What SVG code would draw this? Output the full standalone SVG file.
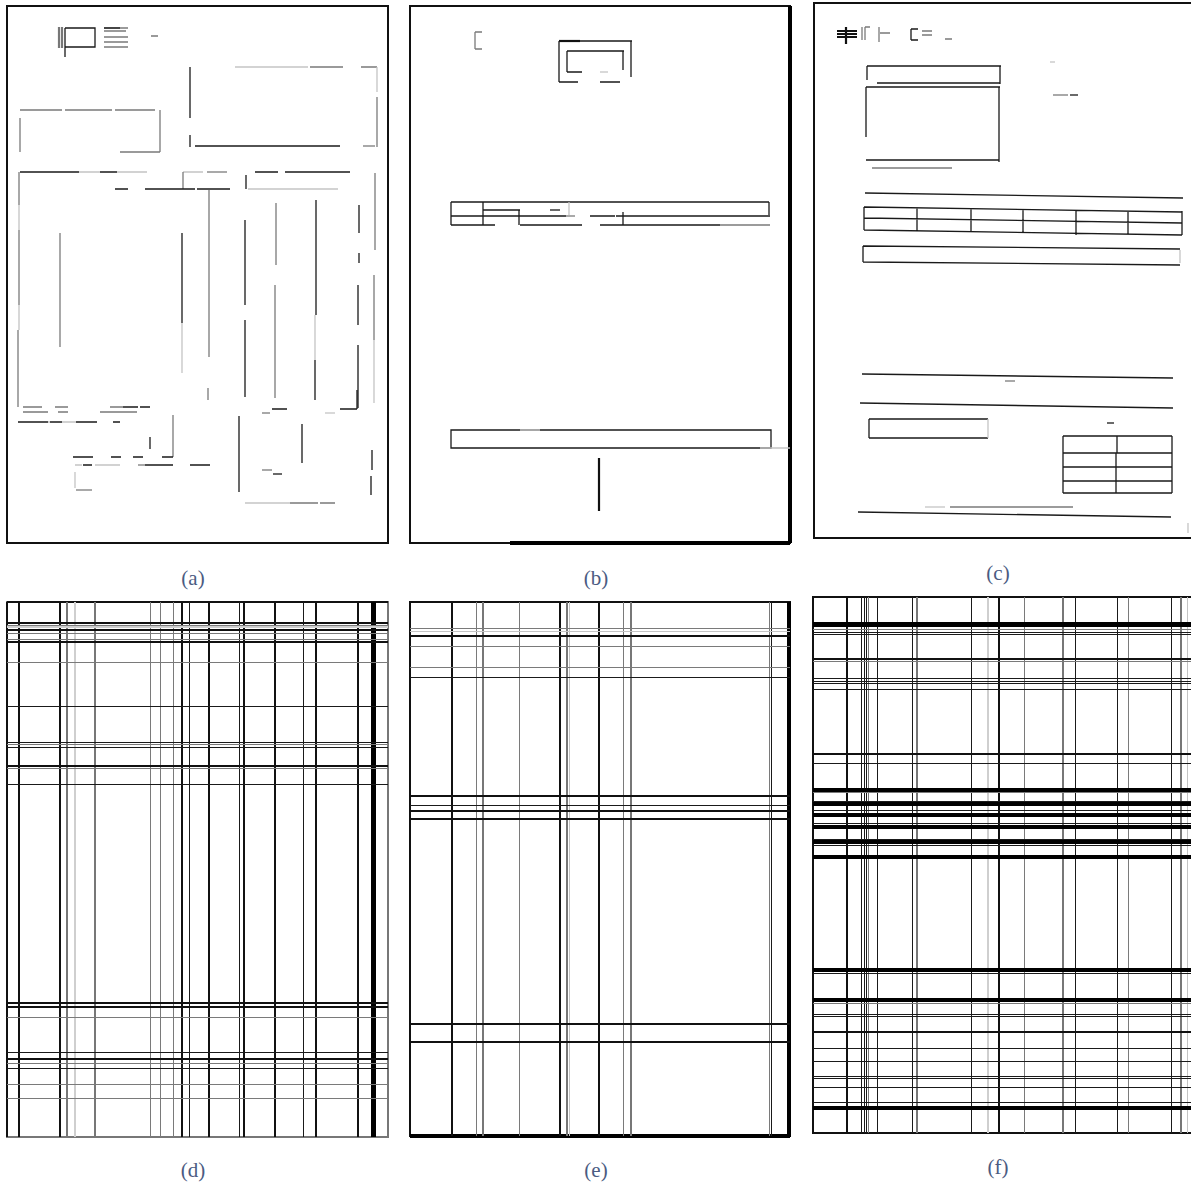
<svg xmlns="http://www.w3.org/2000/svg" width="1191" height="1186" viewBox="0 0 1191 1186">
<style>
.k{stroke:#1a1a1a;stroke-width:1.3;fill:none}
.k2{stroke:#111;stroke-width:2.2;fill:none}
.k4{stroke:#000;stroke-width:4;fill:none}
.g{stroke:#7a7a7a;stroke-width:1.3;fill:none}
.g2{stroke:#777;stroke-width:2.2;fill:none}
.l{stroke:#c4c4c4;stroke-width:1.3;fill:none}
.l2{stroke:#cfcfcf;stroke-width:2.2;fill:none}
.fr{stroke:#111;stroke-width:2;fill:none}
.grid .k,.grid .g,.grid .l{stroke-width:1}
.grid .k2,.grid .g2,.grid .l2{stroke-width:2}
.lab{font-family:"Liberation Serif","DejaVu Serif",serif;font-size:21px;fill:#4b5b82;text-anchor:middle}
</style>
<rect width="1191" height="1186" fill="#fff"/>

<g id="panel-a">
<rect class="fr" x="7" y="6" width="381" height="537"/>
<path class="g2" d="M59 27V48M62 27V48"/>
<path class="k" d="M65 28V57M65 28H95V47H65"/>
<path class="g" d="M104 28H128M104 31H126M104 37H128M104 42H128M104 47H128M151 36H158"/>
<path class="k" d="M104 28H120"/>
<path class="k" d="M190 67V118M190 135V147"/>
<path class="l" d="M235 67H308"/><path class="g" d="M310 67H343M361 67H377"/>
<path class="l" d="M377 67V92"/><path class="g" d="M377 97V147"/>
<path class="k" d="M195 146H340"/><path class="g" d="M363 146H375"/>
<path class="g" d="M20 110H62M65 110H112M115 110H155M20 118V152M160 110V152M120 152H160"/>
<path class="k" d="M20 172H79M100 172H117"/><path class="l" d="M79 172H100M117 172H147M183 172H203"/>
<path class="g" d="M207 172H227"/><path class="k" d="M255 172H278M285 172H350"/>
<path class="g" d="M183 172V189"/><path class="k" d="M246 175V189"/>
<path class="k" d="M115 189H128M145 189H165M165 189H195M197 189H230"/><path class="l" d="M248 189H338"/>
<path class="g" d="M19 172V205M19 230V305M18 330V407"/><path class="l" d="M19 205V230M19 305V330"/>
<path class="g" d="M60 233V347"/>
<path class="k" d="M182 233V323"/><path class="l" d="M182 323V373"/>
<path class="g" d="M209 190V357M208 388V400"/>
<path class="k" d="M245 220V305M245 320V397"/>
<path class="g" d="M276 203V265M275 285V398"/>
<path class="k" d="M316 200V315M315 360V400"/><path class="l" d="M315 315V360"/>
<path class="k" d="M359 205V233M359 253V263M358 285V325M358 345V408"/>
<path class="g" d="M375 173V250M374 275V340"/><path class="l" d="M374 340V403"/>
<path class="g" d="M23 407H42M55 407H68M110 407H123M100 412H137M23 412H48M58 412H68"/>
<path class="k" d="M123 407H138M140 407H150"/>
<path class="k" d="M18 422H48M50 422H62M76 422H97M113 422H120"/><path class="l" d="M48 422H50M62 422H76"/>
<path class="g" d="M262 413H270"/><path class="k" d="M272 409H287M340 409H357M357 409V390"/><path class="l" d="M325 413H335"/>
<path class="g" d="M173 415V457"/><path class="k" d="M150 437V449"/>
<path class="k" d="M73 457H93M111 457H121M133 457H143M162 457H173"/>
<path class="l" d="M75 465H82M95 465H120"/><path class="k" d="M83 465H92M145 465H173M190 465H210"/><path class="g" d="M138 465H145"/>
<path class="l" d="M75 472V488"/><path class="g" d="M76 490H92"/>
<path class="k" d="M239 416V492M302 424V463M372 450V470M371 476V495"/>
<path class="l" d="M245 503H290"/><path class="g" d="M290 503H318M320 503H335"/>
<path class="g" d="M262 470H272"/><path class="k" d="M273 474H282"/>
</g>

<g id="panel-b">
<path class="fr" d="M410 6H790V543H410Z"/>
<path class="k4" d="M790 6V543M510 543H790"/>
<path class="g" d="M475 32V49M475 32H482M475 49H482"/>
<path class="k2" d="M559 41H580"/><path class="k" d="M580 41H632M559 41V82M631 41V77M559 82H578M600 82H620"/>
<path class="k" d="M567 51H624M567 51V72M623 51V70M567 72H582"/><path class="l" d="M600 72H608"/>
<path class="k" d="M451 202H769M451 202V225M769 202V215M483 202V225M483 210H520M519 210V225M623 212V225"/>
<path class="k" d="M451 216H566M590 216H615M616 216H770"/><path class="g" d="M566 216H575"/>
<path class="k" d="M451 225H495M520 225H582M600 225H720"/><path class="g" d="M720 225H770"/>
<path class="l" d="M569 202V215"/><path class="k" d="M550 210H560"/>
<path class="k" d="M451 430H771V448H451Z"/><path class="l" d="M520 430H540M760 448H790"/>
<path class="k2" d="M599 458V511"/>
</g>

<g id="panel-c">
<path class="fr" d="M1195 3H814V538H1195"/>
<path class="k2" d="M837 31H857M837 34H857M837 37H857M846 27V44"/>
<path class="g" d="M862 27V40M865 27V40M865 27H870M879 27V42M880 33H890"/>
<path class="k" d="M911 29V40M911 29H918M911 40H918"/><path class="g" d="M922 31H932M922 35H932M945 39H952"/>
<path class="k" d="M867 66H1001M867 66V80M1000 66V84M877 83H1000"/>
<path class="k" d="M866 87H1000M866 87V137M999 87V162M866 160H999"/>
<path class="g" d="M872 168H952"/>
<path class="l" d="M1050 62H1055"/><path class="g" d="M1053 95H1068"/><path class="k" d="M1070 95H1078"/>
<path class="k" d="M865 193L1183 198"/>
<path class="k" d="M864 207L1182 212M864 218L1182 223M864 230L1182 235M864 207V230M917 208V231M971 209V232M1023 210V233M1076 210V235M1128 211V235M1182 211V235"/>
<path class="k" d="M863 246L1180 249M863 262L1180 265M863 246V262"/><path class="l" d="M1180 250V263"/>
<path class="k" d="M862 374L1173 378"/><path class="g" d="M1005 381H1015"/>
<path class="k" d="M860 403L1173 408"/>
<path class="k" d="M869 419H988M869 419V438M869 438H988"/><path class="l" d="M988 419V438"/>
<path class="k" d="M1107 423H1114"/>
<path class="k" d="M1063 436H1172M1063 453H1172M1063 467H1172M1063 481H1172M1063 493H1172M1063 436V493M1172 436V493M1117 436V453M1116 453V493"/>
<path class="l" d="M925 507H945"/><path class="g" d="M950 507H1073"/>
<path class="k" d="M858 512L1171 517"/>
<path class="l" d="M1188 523V533"/>
</g>

<g id="panel-d" class="grid" shape-rendering="crispEdges">
<path class="g2" d="M7 602H388V1137H7Z"/>
<path class="k2" d="M7 602H388M7 602V1137"/>
<path class="k2" d="M19 602V1137M60 602V1137M182 602V1137M209 602V1137M244 602V1137M275 602V1137M316 602V1137M358 602V1137"/>
<path class="k" d="M189.5 602V1137M239.5 602V1137M303.5 602V1137"/>
<path class="g2" d="M67 602V1137M95 602V1137"/>
<path class="l2" d="M75 602V1137"/>
<path class="g" d="M150.5 602V1137M160.5 602V1137M173.5 602V1137"/>
<rect x="371" y="602" width="5" height="535" fill="#000"/>
<path class="k2" d="M7 623H388M7 630H388M7 642H388M7 766H388M7 1003H388M7 1007H388M7 1059H388"/>
<path class="g" d="M7 625.5H388M7 633.5H388M7 639.5H388M7 662.5H388M7 744.5H388M7 768.5H388M7 1017.5H388M7 1063.5H388M7 1084.5H388M7 1098.5H388"/>
<path class="l2" d="M7 627H388"/>
<path class="k" d="M7 706.5H388M7 742.5H388M7 747.5H388M7 784.5H388M7 1052.5H388M7 1068.5H388"/>
</g>

<g id="panel-e" class="grid" shape-rendering="crispEdges">
<path class="k2" d="M410 602H790V1136H410Z"/>
<path class="k4" d="M789 602V1137M410 1136H790"/>
<path class="k2" d="M452 602V1136M560 602V1136M599 602V1136"/>
<path class="g" d="M476.5 602V1136M519.5 602V1136M623.5 602V1136M769.5 602V1136"/>
<path class="g2" d="M483 602V1136M567 602V1136M631 602V1136"/>
<path class="l" d="M569.5 602V1136"/>
<path class="k" d="M771.5 602V1136"/>
<path class="g" d="M410 628.5H790M410 646.5H790M410 667.5H790"/>
<path class="l" d="M410 631.5H790"/>
<path class="k2" d="M410 636H790M410 796H790M410 811H790M410 819H790M410 1024H790M410 1042H790"/>
<path class="k" d="M410 677.5H790M410 805.5H790"/>
</g>

<g id="panel-f" class="grid" shape-rendering="crispEdges">
<path class="k2" d="M1195 597H813V1133H1195"/>
<path class="k2" d="M813 597V1133"/>
<path class="k2" d="M847 597V1133M999 597V1133"/>
<path class="k" d="M861.5 597V1133M864.5 597V1133M866.5 597V1133M877.5 597V1133M912.5 597V1133M971.5 597V1133M1075.5 597V1133M1117.5 597V1133M1171.5 597V1133"/>
<path class="g" d="M868.5 597V1133M1024.5 597V1133M1128.5 597V1133"/>
<path class="g2" d="M917 597V1133M1063 597V1133M1181 597V1133"/>
<path class="l2" d="M988 597V1133"/><path class="l" d="M1187.5 597V1133"/>
<rect x="813" y="622" width="378" height="5" fill="#000"/>
<path class="g" d="M813 629.5H1191"/>
<path class="k" d="M813 632.5H1191M813 634.5H1191M813 678.5H1191M813 681.5H1191M813 683.5H1191M813 689.5H1191M813 763.5H1191M813 801.5H1191M813 810.5H1191M813 823.5H1191M813 839.5H1191M813 845.5H1191M813 973.5H1191M813 1014.5H1191M813 1016.5H1191M813 1048.5H1191M813 1061.5H1191M813 1076.5H1191M813 1078.5H1191M813 1087.5H1191M813 1102.5H1191"/>
<path class="k2" d="M813 659H1191M813 754H1191M813 1032H1191"/>
<path class="k4" d="M813 790H1191M813 804H1191M813 815H1191M813 827H1191M813 842H1191M813 857H1191M813 970H1191M813 1000H1191M813 1108H1191"/>
<path class="g" d="M813 661.5H1191M813 792.5H1191M813 1003.5H1191"/>
</g>

<g id="labels">
<text class="lab" x="193" y="585">(a)</text>
<text class="lab" x="596" y="585">(b)</text>
<text class="lab" x="998" y="580">(c)</text>
<text class="lab" x="193" y="1177">(d)</text>
<text class="lab" x="596" y="1177">(e)</text>
<text class="lab" x="998" y="1174">(f)</text>
</g>
</svg>
